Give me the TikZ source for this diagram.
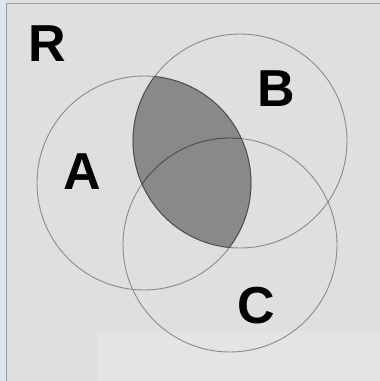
\documentclass[tikz,border=0pt]{standalone}
\usepackage{fontspec}
\setmainfont{Liberation Sans}
\usepackage{tikz}
\usetikzlibrary{backgrounds}
\definecolor{Canvas}{HTML}{DFDFDF}
\definecolor{Patch}{HTML}{E4E4E4}
\definecolor{Strip}{HTML}{DCE6F2}
\definecolor{Frame}{HTML}{9C9C9C}
\definecolor{SetLine}{HTML}{8A8A8A}
\definecolor{Lens}{HTML}{898989}
\definecolor{LensEdge}{HTML}{4A4A4A}
\tikzset{
  setcircle/.style={circle,draw=SetLine,line width=0.9pt,minimum size=214pt,inner sep=0pt},
  setlabel/.style={font=\fontsize{52}{52}\selectfont\bfseries,text=black,inner sep=0pt},
  lensfill/.style={fill=Lens,draw=LensEdge,line width=0.9pt}
}

\begin{document}
\begin{tikzpicture}[x=1pt,y=-1pt]
  % canvas and window frame
  \useasboundingbox (0,0) rectangle (380,381);
  \fill[Canvas] (0,0) rectangle (380,381);
  \fill[Patch] (97,331) rectangle (380,381);
  \fill[Strip] (0,0) rectangle (6,381);
  \draw[Frame,line width=1pt] (6.5,381) -- (6.5,3) -- (380,3);
  % the three sets
  \node[setcircle] (setA) at (144,183) {};
  \node[setcircle] (setB) at (240,141) {};
  \node[setcircle] (setC) at (230,245) {};
  % shaded A and B
  \begin{scope}
    \clip (setA.center) circle (107);
    \fill[Lens] (setB.center) circle (107);
  \end{scope}
  \begin{scope}
    \clip (setA.center) circle (107);
    \draw[LensEdge,line width=0.9pt] (setB.center) circle (107);
  \end{scope}
  \begin{scope}
    \clip (setB.center) circle (107);
    \draw[LensEdge,line width=0.9pt] (setA.center) circle (107);
    \clip (setA.center) circle (107);
    \draw[LensEdge,line width=0.9pt] (setC.center) circle (107);
  \end{scope}
  % labels
  \node[setlabel] (labR) at (47,44) {R};
  \node[setlabel] (labA) at (82,172) {A};
  \node[setlabel] (labB) at (276,89) {B};
  \node[setlabel] (labC) at (256,306) {C};
\end{tikzpicture}
\end{document}
